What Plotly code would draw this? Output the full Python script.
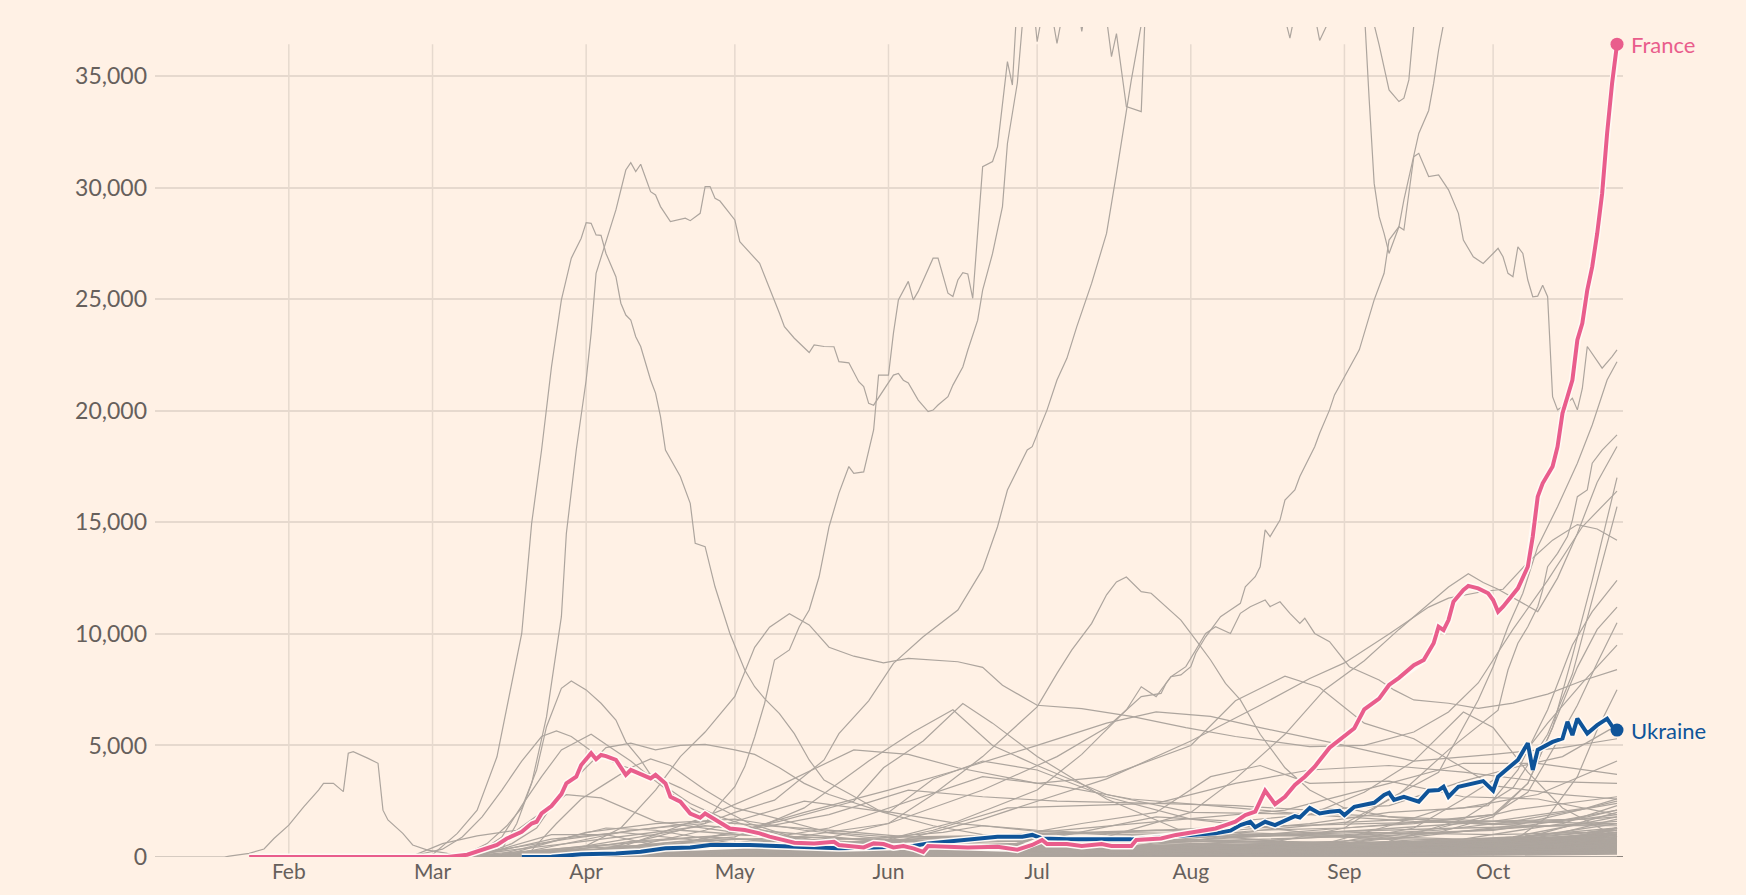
import plotly.graph_objects as go

# new cases per day (7-day average)
# each series is a list of (month-day, value) pairs, 2020

france = [('01-24', 0), ('03-04', 0), ('03-08', 100), ('03-11', 310), ('03-14', 540), ('03-16', 830),
          ('03-19', 1130), ('03-21', 1500), ('03-22', 1580), ('03-23', 1950), ('03-25', 2280), ('03-27', 2820),
          ('03-28', 3300), ('03-30', 3600), ('03-31', 4120), ('04-02', 4650), ('04-03', 4380), ('04-04', 4570),
          ('04-05', 4520), ('04-07', 4350), ('04-09', 3680), ('04-10', 3900), ('04-12', 3720), ('04-14', 3520),
          ('04-15', 3680), ('04-17', 3300), ('04-18', 2700), ('04-20', 2480), ('04-22', 1950), ('04-24', 1760),
          ('04-25', 1950), ('04-27', 1690), ('04-29', 1430), ('04-30', 1280), ('05-03', 1210), ('05-06', 1060),
          ('05-08', 910), ('05-13', 640), ('05-17', 610), ('05-21', 680), ('05-22', 540), ('05-27', 430),
          ('05-29', 610), ('05-31', 580), ('06-02', 430), ('06-04', 490), ('06-06', 390), ('06-08', 230),
          ('06-09', 490), ('06-17', 430), ('06-23', 460), ('06-25', 390), ('06-27', 330), ('06-30', 540),
          ('07-02', 760), ('07-03', 580), ('07-07', 580), ('07-10', 490), ('07-14', 580), ('07-16', 490),
          ('07-20', 490), ('07-21', 760), ('07-26', 830), ('07-29', 990), ('08-01', 1090), ('08-06', 1280),
          ('08-08', 1430), ('08-10', 1580), ('08-12', 1880), ('08-14', 2030), ('08-16', 2970), ('08-18', 2370),
          ('08-20', 2700), ('08-22', 3230), ('08-24', 3600), ('08-26', 4050), ('08-29', 4900), ('08-31', 5240),
          ('09-03', 5770), ('09-05', 6620), ('09-08', 7100), ('09-10', 7710), ('09-12', 8030), ('09-15', 8600),
          ('09-17', 8830), ('09-19', 9580), ('09-20', 10320), ('09-21', 10170), ('09-22', 10620), ('09-23', 11440),
          ('09-25', 11970), ('09-26', 12150), ('09-28', 12040), ('09-30', 11820), ('10-01', 11520), ('10-02', 10990),
          ('10-03', 11220), ('10-06', 12040), ('10-08', 13010), ('10-09', 14360), ('10-10', 16150), ('10-11', 16750),
          ('10-13', 17500), ('10-14', 18390), ('10-15', 19890), ('10-16', 20630), ('10-17', 21380), ('10-18', 23170),
          ('10-19', 23920), ('10-20', 25410), ('10-21', 26460), ('10-22', 27950), ('10-23', 29740), ('10-24', 32430),
          ('10-25', 34670), ('10-26', 36430)]

ukraine = [('03-19', 0), ('03-25', 15), ('03-31', 120), ('04-07', 160), ('04-12', 240), ('04-17', 390),
           ('04-22', 430), ('04-26', 540), ('05-04', 540), ('05-09', 490), ('05-16', 430), ('05-22', 390),
           ('05-29', 430), ('06-06', 490), ('06-09', 610), ('06-17', 760), ('06-23', 910), ('06-28', 910),
           ('06-30', 990), ('07-02', 830), ('07-07', 790), ('07-20', 790), ('08-06', 1060), ('08-09', 1180),
           ('08-11', 1430), ('08-13', 1580), ('08-14', 1330), ('08-16', 1580), ('08-18', 1430), ('08-22', 1830),
           ('08-23', 1770), ('08-25', 2200), ('08-27', 1950), ('08-29', 2030), ('08-31', 2070), ('09-01', 1880),
           ('09-03', 2250), ('09-07', 2430), ('09-09', 2780), ('09-10', 2880), ('09-11', 2560), ('09-13', 2700),
           ('09-16', 2480), ('09-18', 2970), ('09-20', 3000), ('09-21', 3150), ('09-22', 2700), ('09-24', 3150),
           ('09-27', 3300), ('09-29', 3400), ('10-01', 2970), ('10-02', 3600), ('10-06', 4350), ('10-08', 5100),
           ('10-09', 3900), ('10-10', 4800), ('10-13', 5160), ('10-15', 5310), ('10-16', 6060), ('10-17', 5460),
           ('10-18', 6200), ('10-20', 5530), ('10-22', 5910), ('10-24', 6200), ('10-25', 5870), ('10-26', 5690)]

# the other countries (grey)
china = [('01-05', 0), ('01-19', 0), ('01-20', 40), ('01-24', 160), ('01-27', 360), ('01-29', 830),
         ('02-01', 1430), ('02-04', 2250), ('02-07', 3000), ('02-08', 3300), ('02-10', 3300), ('02-12', 2930),
         ('02-13', 4650), ('02-14', 4720), ('02-17', 4420), ('02-19', 4200), ('02-20', 2100), ('02-21', 1660),
         ('02-24', 1060), ('02-26', 540), ('02-29', 310), ('03-04', 160), ('03-15', 30), ('10-26', 20)]

peak_april = [('02-25', 0), ('03-01', 100), ('03-06', 1060), ('03-10', 2100), ('03-14', 4490), ('03-16', 6730),
              ('03-19', 10020), ('03-21', 14950), ('03-23', 18240), ('03-25', 21970), ('03-27', 24970),
              ('03-29', 26840), ('03-31', 27730), ('04-01', 28430), ('04-02', 28400), ('04-03', 27880),
              ('04-04', 27860), ('04-05', 27050), ('04-07', 26010), ('04-08', 24820), ('04-09', 24290),
              ('04-10', 24070), ('04-11', 23320), ('04-12', 22880), ('04-14', 21380), ('04-15', 20790),
              ('04-16', 19740), ('04-17', 18240), ('04-20', 17050), ('04-22', 15850), ('04-23', 14060),
              ('04-25', 13910), ('04-27', 12110), ('04-30', 10020), ('05-03', 8380), ('05-05', 7630),
              ('05-07', 7100), ('05-10', 6430), ('05-13', 5530), ('05-16', 4350), ('05-19', 3450), ('05-24', 2850),
              ('05-30', 2100), ('06-15', 1500), ('07-01', 1200), ('07-20', 1000), ('08-10', 900), ('09-01', 1000),
              ('09-20', 1200), ('10-05', 1600), ('10-26', 2400)]

us = [('03-01', 5), ('03-10', 60), ('03-15', 350), ('03-18', 1500), ('03-21', 3300), ('03-24', 6280),
      ('03-27', 10770), ('03-28', 14500), ('03-30', 18240), ('04-01', 21380), ('04-02', 23470), ('04-03', 26160),
      ('04-07', 29000), ('04-09', 30790), ('04-10', 31120), ('04-11', 30720), ('04-12', 31050), ('04-14', 29820),
      ('04-15', 29670), ('04-16', 29150), ('04-18', 28480), ('04-21', 28630), ('04-22', 28520), ('04-24', 28850),
      ('04-25', 30050), ('04-26', 30050), ('04-27', 29520), ('04-28', 29400), ('05-01', 28550), ('05-02', 27580),
      ('05-03', 27330), ('05-06', 26610), ('05-10', 24370), ('05-11', 23770), ('05-13', 23250), ('05-15', 22800),
      ('05-16', 22610), ('05-17', 22950), ('05-19', 22880), ('05-21', 22870), ('05-22', 22200), ('05-24', 22150),
      ('05-26', 21300), ('05-27', 21080), ('05-28', 20330), ('05-29', 20250), ('05-31', 20920), ('06-02', 21600),
      ('06-03', 21670), ('06-04', 21370), ('06-05', 21250), ('06-07', 20480), ('06-09', 19960), ('06-10', 20030),
      ('06-11', 20260), ('06-13', 20630), ('06-14', 21150), ('06-16', 21960), ('06-17', 22710), ('06-19', 24060),
      ('06-20', 25410), ('06-22', 27050), ('06-24', 29150), ('06-25', 31980), ('06-27', 34690), ('06-28', 37300),
      ('07-05', 48000), ('07-20', 66000), ('08-10', 54000), ('09-01', 40000), ('09-07', 37300), ('09-08', 36400),
      ('09-10', 34380), ('09-12', 33860), ('09-13', 34010), ('09-14', 34830), ('09-15', 37300), ('09-16', 38500),
      ('10-01', 42000), ('10-26', 68000)]

brazil = [('03-15', 20), ('04-01', 800), ('04-10', 1200), ('04-20', 1400), ('04-25', 1500), ('04-28', 2400),
          ('05-01', 3150), ('05-03', 4050), ('05-05', 5380), ('05-07', 6880), ('05-09', 8830), ('05-12', 9280),
          ('05-14', 10320), ('05-16', 11070), ('05-18', 12560), ('05-20', 14800), ('05-22', 16310), ('05-24', 17500),
          ('05-25', 17190), ('05-27', 17260), ('05-28', 18240), ('05-29', 19140), ('05-30', 21600), ('06-01', 21600),
          ('06-02', 23480), ('06-03', 24970), ('06-05', 25800), ('06-06', 24970), ('06-07', 25350), ('06-10', 26840),
          ('06-11', 26840), ('06-13', 25270), ('06-14', 25120), ('06-15', 25860), ('06-16', 26190), ('06-17', 26130),
          ('06-18', 25040), ('06-20', 30940), ('06-22', 31170), ('06-23', 31840), ('06-25', 35650), ('06-26', 34600),
          ('06-27', 38500), ('06-29', 41000), ('07-01', 36540), ('07-03', 39000), ('07-05', 36470), ('07-08', 40000),
          ('07-10', 37000), ('07-13', 41000), ('07-16', 35870), ('07-17', 36900), ('07-19', 33630), ('07-22', 33410),
          ('07-23', 39000), ('07-28', 45000), ('08-05', 44000), ('08-15', 42000), ('08-21', 36700), ('08-24', 40000),
          ('08-27', 36600), ('08-30', 38000), ('09-02', 40000), ('09-05', 38000), ('09-06', 33930), ('09-07', 30190),
          ('09-08', 28700), ('09-09', 27950), ('09-10', 27050), ('09-12', 28250), ('09-13', 28100), ('09-15', 31390),
          ('09-16', 31540), ('09-18', 30500), ('09-20', 30570), ('09-22', 29900), ('09-24', 28850), ('09-25', 27650),
          ('09-27', 26900), ('09-29', 26600), ('10-01', 27050), ('10-02', 27280), ('10-03', 26900), ('10-04', 26160),
          ('10-05', 26010), ('10-06', 27350), ('10-07', 27050), ('10-08', 25860), ('10-09', 25110), ('10-10', 25140),
          ('10-11', 25630), ('10-12', 25110), ('10-13', 20630), ('10-14', 20040), ('10-15', 20180), ('10-17', 20560),
          ('10-18', 20040), ('10-19', 21000), ('10-20', 22880), ('10-23', 21910), ('10-25', 22430), ('10-26', 22730)]

india = [('03-20', 20), ('03-28', 100), ('04-05', 400), ('04-15', 900), ('04-25', 1500), ('05-01', 2000),
         ('05-09', 2550), ('05-14', 3450), ('05-19', 4350), ('05-22', 5530), ('05-28', 7000), ('06-02', 8680),
         ('06-08', 9870), ('06-15', 11070), ('06-20', 12900), ('06-23', 14800), ('06-25', 16450), ('06-29', 18240),
         ('06-30', 18390), ('07-03', 20040), ('07-05', 21380), ('07-07', 22350), ('07-09', 23770), ('07-12', 25720),
         ('07-15', 27950), ('07-17', 30640), ('07-20', 34830), ('07-22', 37300), ('07-26', 45000), ('08-15', 60000),
         ('09-15', 92000), ('10-10', 70000), ('10-26', 50000)]

rise_aug = [('04-01', 30), ('05-01', 500), ('06-01', 1500), ('06-20', 3000), ('07-05', 4500), ('07-15', 5800),
            ('07-19', 6590), ('07-22', 7190), ('07-26', 7330), ('07-27', 7780), ('07-28', 8080), ('07-30', 8160),
            ('08-01', 8530), ('08-02', 9130), ('08-04', 9870), ('08-07', 10770), ('08-09', 11070), ('08-11', 11370),
            ('08-12', 12110), ('08-14', 12560), ('08-15', 13010), ('08-16', 14660), ('08-17', 14360), ('08-19', 15100),
            ('08-20', 16000), ('08-22', 16450), ('08-23', 17050), ('08-26', 18390), ('08-27', 18990), ('08-29', 20040),
            ('08-30', 20710), ('09-01', 21530), ('09-04', 22730), ('09-07', 24970), ('09-09', 26160), ('09-10', 27650),
            ('09-12', 28250), ('09-13', 29450), ('09-16', 32430), ('09-18', 33460), ('09-19', 34670), ('09-20', 36170),
            ('09-22', 38500), ('10-01', 45000), ('10-26', 60000)]

spain = [('03-03', 20), ('03-08', 150), ('03-12', 600), ('03-16', 1400), ('03-19', 2200), ('03-22', 3900),
         ('03-24', 5840), ('03-26', 7040), ('03-27', 7560), ('03-29', 7890), ('04-01', 7490), ('04-04', 6890),
         ('04-07', 6140), ('04-09', 5160), ('04-12', 4350), ('04-14', 3680), ('04-18', 3000), ('04-22', 2400),
         ('04-28', 1800), ('05-05', 1300), ('05-12', 900), ('05-20', 500), ('06-01', 320), ('06-15', 350),
         ('07-01', 420), ('07-15', 900), ('08-01', 2000), ('08-10', 3500), ('08-20', 5500), ('08-28', 7500),
         ('09-05', 8800), ('09-12', 10200), ('09-22', 12100), ('09-26', 12700), ('09-29', 12300), ('10-02', 12000),
         ('10-06', 11500), ('10-10', 11000), ('10-14', 12500), ('10-18', 14500), ('10-22', 16800), ('10-26', 18400)]

italy = [('02-21', 0), ('02-27', 100), ('03-03', 350), ('03-07', 900), ('03-11', 1800), ('03-15', 3000),
         ('03-19', 4300), ('03-23', 5400), ('03-26', 5650), ('03-29', 5400), ('04-03', 4600), ('04-08', 4100),
         ('04-14', 3700), ('04-20', 3100), ('04-27', 2300), ('05-04', 1500), ('05-12', 950), ('05-20', 650),
         ('06-01', 380), ('06-15', 300), ('07-01', 200), ('07-20', 230), ('08-01', 300), ('08-15', 550),
         ('09-01', 1300), ('09-15', 1550), ('10-01', 1900), ('10-08', 3300), ('10-13', 5800), ('10-17', 9000),
         ('10-21', 12400), ('10-26', 17000)]

germany = [('02-28', 10), ('03-06', 100), ('03-11', 300), ('03-15', 900), ('03-19', 2300), ('03-23', 3600),
           ('03-27', 4800), ('04-02', 5500), ('04-06', 4900), ('04-10', 4300), ('04-15', 3400), ('04-22', 2200),
           ('04-30', 1300), ('05-10', 850), ('05-20', 600), ('06-01', 400), ('06-20', 450), ('07-01', 420),
           ('07-20', 500), ('08-01', 700), ('08-15', 1200), ('09-01', 1300), ('09-15', 1500), ('10-01', 1900),
           ('10-08', 2900), ('10-13', 4800), ('10-18', 6800), ('10-22', 8700), ('10-26', 10500)]

uk = [('03-05', 20), ('03-12', 200), ('03-17', 600), ('03-22', 1300), ('03-27', 2900), ('04-01', 4000),
      ('04-05', 4900), ('04-10', 5100), ('04-15', 4800), ('04-20', 5000), ('04-25', 5050), ('05-01', 4800),
      ('05-05', 4600), ('05-10', 4000), ('05-15', 3300), ('05-20', 2800), ('05-31', 2000), ('06-10', 1400),
      ('06-20', 1000), ('07-01', 750), ('07-15', 600), ('08-01', 750), ('08-15', 1000), ('09-01', 1300),
      ('09-10', 2600), ('09-20', 3800), ('09-28', 7040), ('10-01', 8530), ('10-04', 10320), ('10-07', 11820),
      ('10-10', 13910), ('10-14', 15700), ('10-18', 17650), ('10-21', 19360), ('10-24', 21380), ('10-26', 22200)]

rise_oct = [('09-01', 1500), ('09-12', 2800), ('09-22', 4800), ('10-02', 6580), ('10-03', 7490), ('10-04', 8380),
            ('10-06', 9580), ('10-08', 10320), ('10-10', 11220), ('10-11', 11970), ('10-12', 13010), ('10-14', 13610),
            ('10-16', 14360), ('10-17', 15100), ('10-18', 16150), ('10-20', 16450), ('10-21', 17650), ('10-23', 18240),
            ('10-26', 18920)]

turkey = [('03-15', 10), ('03-21', 300), ('03-26', 1500), ('03-31', 2600), ('04-05', 3300), ('04-10', 4000),
          ('04-14', 4400), ('04-18', 4100), ('04-25', 3000), ('05-01', 2200), ('05-10', 1700), ('05-20', 1100),
          ('06-01', 900), ('06-12', 1100), ('06-20', 1400), ('07-01', 1150), ('07-15', 1000), ('08-01', 950),
          ('08-15', 1200), ('09-01', 1550), ('09-15', 1700), ('10-01', 1500), ('10-15', 1650), ('10-26', 2100)]

russia = [('03-20', 30), ('04-01', 500), ('04-08', 1300), ('04-15', 3000), ('04-20', 4500), ('04-25', 5600),
          ('05-01', 7200), ('05-05', 9400), ('05-08', 10300), ('05-12', 10900), ('05-16', 10400), ('05-20', 9400),
          ('05-25', 9000), ('05-31', 8700), ('06-05', 8900), ('06-15', 8750), ('06-20', 8500), ('06-24', 7700),
          ('07-01', 6800), ('07-10', 6650), ('07-20', 6300), ('07-31', 5800), ('08-10', 5400), ('08-25', 4950),
          ('09-05', 5000), ('09-15', 5600), ('09-22', 6500), ('09-28', 7800), ('10-05', 10200), ('10-12', 12400),
          ('10-19', 14800), ('10-26', 16400)]

peak_july = [('04-15', 100), ('05-01', 300), ('05-15', 600), ('06-01', 1500), ('06-10', 2800), ('06-20', 4500),
             ('07-01', 6730), ('07-05', 8230), ('07-08', 9280), ('07-12', 10470), ('07-15', 11750), ('07-17', 12330),
             ('07-19', 12550), ('07-22', 11890), ('07-24', 11820), ('07-27', 11220), ('07-30', 10620), ('08-02', 9730),
             ('08-05', 8830), ('08-08', 7780), ('08-11', 7040), ('08-15', 5500), ('08-20', 4000), ('08-25', 3000),
             ('09-01', 2200), ('09-10', 1800), ('09-20', 1600), ('10-01', 1450), ('10-15', 1600), ('10-26', 1900)]

peak_august = [('04-01', 50), ('05-01', 300), ('06-01', 800), ('06-15', 1600), ('07-01', 3000), ('07-10', 4600),
               ('07-19', 6590), ('07-22', 7630), ('07-25', 7190), ('07-28', 8080), ('07-31', 8530), ('08-04', 10020),
               ('08-06', 10320), ('08-09', 10020), ('08-11', 10920), ('08-13', 11220), ('08-16', 11520),
               ('08-17', 11220), ('08-19', 11440), ('08-21', 10920), ('08-23', 10470), ('08-24', 10700),
               ('08-26', 10020), ('08-29', 9650), ('09-02', 8530), ('09-08', 7930), ('09-11', 7490), ('09-15', 7040),
               ('09-22', 6890), ('09-28', 6660), ('10-05', 6900), ('10-12', 7300), ('10-19', 7900), ('10-26', 8400)]

argentina = [('04-01', 50), ('05-01', 150), ('06-01', 600), ('06-20', 1700), ('07-01', 2500), ('07-15', 3500),
             ('08-01', 5200), ('08-15', 6800), ('08-25', 8000), ('09-01', 8700), ('09-10', 10000), ('09-18', 11200),
             ('09-22', 11600), ('09-29', 11900), ('10-03', 12000), ('10-08', 13200), ('10-13', 14200),
             ('10-18', 14900), ('10-22', 14700), ('10-26', 14200)]

mexico = [('04-10', 200), ('05-01', 1100), ('05-15', 2000), ('06-01', 3000), ('06-15', 3900), ('07-01', 5000),
          ('07-15', 6000), ('07-25', 6500), ('08-05', 6300), ('08-15', 5800), ('09-01', 5000), ('09-15', 4300),
          ('10-01', 4600), ('10-15', 4900), ('10-26', 5300)]

peru = [('04-05', 200), ('04-25', 1800), ('05-10', 3200), ('05-25', 4800), ('06-05', 4600), ('06-15', 4000),
        ('07-01', 3300), ('07-15', 3600), ('08-01', 5000), ('08-10', 7000), ('08-20', 8100), ('08-27', 7600),
        ('09-05', 6000), ('09-15', 5300), ('10-01', 3200), ('10-15', 2800), ('10-26', 2600)]

chile = [('04-01', 300), ('05-01', 900), ('05-15', 2200), ('05-28', 4300), ('06-06', 5600), ('06-14', 6600),
         ('06-22', 5000), ('07-01', 4100), ('07-15', 2800), ('08-01', 2000), ('09-01', 1900), ('10-01', 1600),
         ('10-26', 1500)]

iran = [('02-26', 50), ('03-03', 600), ('03-10', 950), ('03-18', 1200), ('03-28', 2800), ('04-04', 2650),
        ('04-15', 1600), ('05-01', 1100), ('05-20', 1900), ('06-05', 3000), ('06-20', 2700), ('07-05', 2500),
        ('07-25', 2400), ('08-10', 2300), ('08-25', 2100), ('09-10', 2300), ('09-25', 3400), ('10-05', 4000),
        ('10-15', 4500), ('10-26', 5900)]

pakistan = [('04-01', 150), ('04-20', 600), ('05-10', 1600), ('05-25', 2500), ('05-31', 4000), ('06-08', 5200),
            ('06-16', 6880), ('06-22', 6000), ('07-01', 4500), ('07-15', 2600), ('08-01', 1000), ('09-01', 500),
            ('10-01', 600), ('10-26', 800)]

saudi = [('04-05', 200), ('04-25', 1200), ('05-15', 2500), ('06-01', 2000), ('06-10', 3500), ('06-20', 4300),
         ('07-01', 3900), ('07-15', 2700), ('08-01', 1700), ('09-01', 900), ('10-01', 500), ('10-26', 400)]

israel = [('03-20', 200), ('04-05', 550), ('04-20', 350), ('05-15', 20), ('06-15', 200), ('07-05', 900),
          ('07-25', 1800), ('08-10', 1600), ('08-25', 1900), ('09-05', 2900), ('09-15', 4300), ('09-25', 6500),
          ('10-01', 5800), ('10-08', 3800), ('10-15', 2200), ('10-26', 900)]

philippines = [('04-01', 200), ('05-01', 250), ('06-01', 450), ('06-20', 700), ('07-10', 1500), ('07-25', 2000),
               ('08-05', 3600), ('08-15', 4100), ('08-25', 3300), ('09-10', 3400), ('09-25', 2700),
               ('10-10', 2600), ('10-26', 1900)]

indonesia = [('04-01', 100), ('05-01', 330), ('06-01', 600), ('07-01', 1100), ('08-01', 1700), ('08-20', 2100),
             ('09-10', 3300), ('09-25', 4200), ('10-10', 4200), ('10-26', 3700)]

iraq = [('04-15', 40), ('05-20', 200), ('06-10', 1200), ('06-25', 2200), ('07-10', 2300), ('07-25', 2400),
        ('08-10', 3300), ('08-25', 3900), ('09-10', 4100), ('09-25', 3800), ('10-10', 3400), ('10-26', 3300)]

bangladesh = [('04-10', 60), ('05-01', 600), ('05-20', 1300), ('06-05', 2500), ('06-20', 3600), ('07-05', 3200),
              ('07-20', 2600), ('08-05', 2300), ('08-25', 1900), ('09-15', 1600), ('10-10', 1400), ('10-26', 1400)]

canada = [('03-15', 50), ('04-01', 1100), ('04-15', 1500), ('05-01', 1700), ('05-15', 1200), ('06-01', 780),
          ('06-20', 350), ('07-20', 450), ('08-15', 350), ('09-01', 600), ('09-20', 1300), ('10-05', 2100),
          ('10-26', 2700)]

morocco = [('04-01', 50), ('05-01', 150), ('06-15', 100), ('07-15', 300), ('08-10', 1200), ('08-25', 1500),
           ('09-10', 2000), ('09-25', 2200), ('10-10', 2800), ('10-26', 4300)]

switzerland = [('03-10', 50), ('03-25', 1000), ('04-05', 1000), ('04-20', 300), ('05-20', 30), ('07-20', 120),
               ('09-20', 350), ('10-05', 700), ('10-12', 1800), ('10-18', 3600), ('10-22', 5700), ('10-26', 7500)]

netherlands = [('03-10', 50), ('03-25', 800), ('04-08', 1100), ('04-25', 700), ('05-15', 250), ('06-15', 120),
               ('07-15', 200), ('08-10', 550), ('09-01', 700), ('09-15', 1300), ('09-25', 2600), ('10-05', 4000),
               ('10-12', 6000), ('10-19', 7800), ('10-26', 9500)]

belgium = [('03-15', 150), ('04-05', 1300), ('04-15', 1200), ('05-01', 600), ('06-01', 150), ('07-15', 150),
           ('08-05', 500), ('08-25', 400), ('09-10', 700), ('09-25', 1700), ('10-05', 3100), ('10-12', 5500),
           ('10-17', 8200), ('10-21', 11500), ('10-26', 15700)]

czechia = [('03-20', 200), ('04-10', 250), ('05-10', 60), ('06-30', 150), ('08-01', 250), ('08-25', 400),
           ('09-10', 1400), ('09-20', 2100), ('09-30', 2300), ('10-06', 3900), ('10-12', 6600), ('10-17', 9500),
           ('10-21', 11000), ('10-26', 12400)]

poland = [('03-25', 300), ('04-15', 400), ('05-15', 350), ('06-15', 400), ('07-15', 300), ('08-10', 700),
          ('09-01', 600), ('09-20', 1100), ('10-01', 1800), ('10-08', 3300), ('10-13', 5800), ('10-18', 8500),
          ('10-22', 10200), ('10-26', 11200)]

# the dense bundle of small countries near zero
low_dates_a = ['03-10', '04-01', '04-20', '05-15', '06-15', '07-15', '08-15', '09-15', '10-05', '10-26']
low_a1 = [0, 300, 700, 900, 600, 400, 500, 900, 1400, 2500]
low_a2 = [0, 150, 400, 600, 800, 900, 700, 600, 800, 1200]
low_a3 = [0, 80, 250, 350, 300, 250, 300, 500, 900, 1800]
low_a4 = [0, 500, 1200, 800, 400, 200, 150, 300, 700, 2000]
low_a5 = [0, 50, 200, 500, 900, 1100, 1000, 800, 700, 800]
low_a6 = [0, 20, 100, 250, 400, 600, 800, 1000, 1300, 1600]
low_a7 = [0, 200, 350, 200, 100, 80, 150, 250, 500, 1000]
low_a8 = [0, 100, 150, 200, 300, 450, 600, 700, 900, 1300]
low_a9 = [0, 30, 60, 120, 200, 300, 350, 450, 550, 700]
low_a10 = [0, 10, 40, 80, 150, 250, 400, 600, 750, 900]
low_a11 = [0, 400, 600, 350, 150, 100, 200, 400, 800, 1500]
low_a12 = [0, 60, 120, 180, 220, 200, 180, 220, 300, 450]
low_a13 = [0, 20, 60, 100, 180, 350, 500, 400, 350, 400]
low_a14 = [0, 250, 500, 650, 550, 500, 450, 550, 650, 1100]

low_dates_b = ['03-20', '04-10', '05-01', '05-25', '06-25', '07-25', '08-25', '09-25', '10-15', '10-26']
low_b1 = [0, 700, 1000, 800, 500, 400, 500, 800, 1500, 2300]
low_b2 = [0, 200, 450, 700, 1000, 1200, 1000, 800, 900, 1000]
low_b3 = [0, 100, 200, 300, 500, 800, 1100, 1300, 1400, 1500]
low_b4 = [0, 50, 100, 150, 250, 300, 400, 600, 800, 1000]
low_b5 = [0, 300, 500, 400, 250, 200, 250, 400, 700, 1300]
low_b6 = [0, 20, 50, 100, 200, 400, 600, 700, 600, 550]
low_b7 = [0, 150, 250, 250, 200, 150, 120, 200, 350, 600]
low_b8 = [0, 80, 180, 350, 600, 700, 650, 550, 500, 500]
low_b9 = [0, 10, 30, 60, 100, 150, 200, 300, 450, 600]
low_b10 = [0, 450, 800, 600, 300, 200, 300, 600, 1100, 1700]
low_b11 = [0, 40, 70, 100, 120, 140, 160, 200, 250, 300]
low_b12 = [0, 120, 300, 500, 700, 650, 500, 400, 500, 650]
low_b13 = [0, 5, 20, 40, 60, 80, 100, 150, 200, 250]

low_dates_c = ['03-05', '03-28', '04-25', '05-20', '06-05', '07-05', '08-05', '09-05', '10-01', '10-20', '10-26']
low_c1 = [0, 400, 900, 600, 500, 400, 600, 1000, 1200, 1800, 2100]
low_c2 = [0, 100, 300, 400, 450, 600, 900, 1100, 1000, 1100, 1200]
low_c3 = [0, 600, 1400, 900, 600, 300, 200, 300, 500, 900, 1300]
low_c4 = [0, 50, 150, 300, 400, 500, 450, 400, 450, 600, 700]
low_c5 = [0, 200, 300, 250, 200, 250, 350, 500, 700, 1000, 1100]
low_c6 = [0, 20, 80, 150, 250, 400, 500, 600, 800, 1100, 1300]
low_c7 = [0, 300, 500, 300, 200, 150, 100, 150, 300, 650, 800]
low_c8 = [0, 30, 100, 200, 300, 350, 400, 350, 300, 350, 400]
low_c9 = [0, 150, 400, 600, 700, 800, 700, 600, 700, 900, 1000]
low_c10 = [0, 10, 50, 100, 150, 200, 250, 300, 400, 500, 550]
low_c11 = [0, 80, 200, 250, 250, 200, 150, 200, 300, 500, 600]
low_c12 = [0, 800, 1600, 1200, 900, 700, 800, 1200, 1600, 2200, 2600]
low_c13 = [0, 250, 600, 800, 900, 1000, 1300, 1500, 1600, 1700, 1800]

low_dates_d = ['03-15', '04-05', '04-30', '05-30', '06-30', '07-30', '08-30', '09-20', '10-10', '10-26']
low_d1 = [0, 60, 150, 250, 300, 350, 400, 500, 700, 900]
low_d2 = [0, 30, 80, 120, 150, 200, 250, 350, 500, 700]
low_d3 = [0, 100, 200, 200, 250, 300, 300, 350, 400, 500]
low_d4 = [0, 10, 40, 60, 90, 120, 150, 200, 300, 400]
low_d5 = [0, 150, 300, 350, 400, 450, 500, 600, 800, 1100]
low_d6 = [0, 20, 60, 100, 120, 100, 120, 150, 250, 350]
low_d7 = [0, 200, 400, 300, 250, 300, 350, 450, 600, 800]
low_d8 = [0, 50, 100, 180, 250, 300, 280, 300, 350, 450]
low_d9 = [0, 5, 15, 30, 50, 70, 90, 120, 160, 200]
low_d10 = [0, 80, 200, 300, 350, 400, 450, 500, 550, 650]
low_d11 = [0, 40, 100, 150, 200, 250, 350, 450, 600, 750]
low_d12 = [0, 120, 250, 200, 150, 120, 150, 250, 450, 1000]

low_dates_e = ['03-25', '04-15', '05-10', '06-10', '07-10', '08-10', '09-10', '09-30', '10-20', '10-26']
low_e1 = [0, 100, 150, 200, 250, 300, 350, 400, 500, 550]
low_e2 = [0, 50, 120, 200, 300, 400, 500, 600, 700, 750]
low_e3 = [0, 200, 300, 250, 200, 180, 200, 300, 450, 500]
low_e4 = [0, 20, 50, 80, 100, 130, 170, 220, 280, 300]
low_e5 = [0, 300, 450, 400, 350, 300, 350, 500, 900, 1100]
low_e6 = [0, 10, 30, 50, 80, 110, 140, 180, 230, 260]
low_e7 = [0, 70, 150, 250, 350, 450, 500, 550, 650, 700]
low_e8 = [0, 150, 200, 150, 100, 90, 110, 160, 250, 300]
low_e9 = [0, 30, 70, 110, 160, 200, 260, 320, 400, 450]
low_e10 = [0, 250, 600, 500, 400, 350, 450, 650, 1000, 1200]
low_e11 = [0, 90, 140, 180, 220, 260, 300, 380, 480, 520]
low_e12 = [0, 15, 40, 70, 110, 160, 230, 300, 380, 420]

low_dates_f = ['03-18', '04-08', '05-05', '06-05', '07-05', '08-05', '09-05', '09-28', '10-12', '10-26']
low_f1 = [0, 40, 90, 130, 160, 190, 230, 300, 380, 480]
low_f2 = [0, 120, 180, 140, 120, 150, 200, 280, 420, 650]
low_f3 = [0, 20, 60, 110, 180, 260, 330, 380, 450, 520]
low_f4 = [0, 250, 380, 300, 220, 200, 260, 380, 600, 900]
low_f5 = [0, 60, 110, 90, 70, 60, 80, 120, 200, 320]
low_f6 = [0, 8, 25, 50, 90, 140, 200, 250, 300, 350]
low_f7 = [0, 180, 260, 330, 380, 420, 400, 450, 520, 650]
low_f8 = [0, 30, 50, 70, 90, 110, 130, 160, 200, 240]
low_f9 = [0, 90, 230, 280, 260, 240, 280, 420, 700, 1300]
low_f10 = [0, 15, 35, 60, 80, 100, 100, 120, 150, 180]
low_f11 = [0, 140, 300, 420, 480, 550, 600, 700, 850, 950]
low_f12 = [0, 50, 140, 220, 300, 350, 380, 420, 500, 600]
low_f13 = [0, 350, 500, 350, 200, 150, 180, 300, 550, 850]
low_f14 = [0, 25, 45, 40, 35, 45, 60, 90, 130, 170]
low_f15 = [0, 70, 170, 260, 330, 400, 480, 600, 800, 1050]

low_dates_g = ['03-22', '04-18', '05-12', '06-12', '07-12', '08-12', '09-12', '10-02', '10-18', '10-26']
low_g1 = [0, 60, 100, 140, 170, 200, 240, 290, 350, 380]
low_g2 = [0, 200, 250, 200, 180, 220, 300, 420, 600, 700]
low_g3 = [0, 30, 80, 130, 200, 260, 300, 330, 380, 420]
low_g4 = [0, 100, 160, 220, 250, 280, 350, 500, 750, 900]
low_g5 = [0, 10, 20, 40, 60, 80, 110, 150, 200, 230]
low_g6 = [0, 150, 220, 260, 300, 330, 360, 400, 480, 520]
low_g7 = [0, 40, 70, 90, 100, 120, 150, 200, 280, 330]
low_g8 = [0, 280, 420, 380, 300, 260, 280, 350, 500, 600]
low_g9 = [0, 20, 50, 90, 140, 190, 250, 300, 350, 380]
low_g10 = [0, 80, 120, 100, 90, 110, 140, 200, 300, 360]
low_g11 = [0, 110, 200, 300, 380, 450, 520, 620, 760, 820]
low_g12 = [0, 45, 90, 160, 230, 290, 340, 380, 450, 500]
low_g13 = [0, 170, 320, 420, 500, 560, 620, 700, 850, 1000]
low_g14 = [0, 5, 10, 20, 30, 40, 60, 80, 110, 130]
low_g15 = [0, 60, 140, 190, 210, 230, 280, 350, 470, 560]

month_ticks = ['02-01', '03-01', '04-01', '05-01', '06-01', '07-01', '08-01', '09-01', '10-01']
month_labels = ['Feb', 'Mar', 'Apr', 'May', 'Jun', 'Jul', 'Aug', 'Sep', 'Oct']

BG = '#FFF1E5'
GRID = '#E6D9CE'
GREY = '#ADA59E'
PINK = '#E95D8C'
BLUE = '#0F5499'
TEXT = '#66605C'
FONT = 'Lato, sans-serif'
X_END = '2020-10-27 05:00'


def unpack(pairs):
    return ['2020-' + p[0] for p in pairs], [p[1] for p in pairs]


fig = go.Figure()

grey_pairs = [china, peak_april, us, brazil, india, rise_aug, spain, italy, germany, uk, rise_oct, turkey,
              russia, peak_july, peak_august, argentina, mexico, peru, chile, iran, pakistan, saudi, israel,
              philippines, indonesia, iraq, bangladesh, canada, morocco, switzerland, netherlands, belgium,
              czechia, poland]
low_sets = [
    (low_dates_a, [low_a1, low_a2, low_a3, low_a4, low_a5, low_a6, low_a7, low_a8, low_a9, low_a10,
                   low_a11, low_a12, low_a13, low_a14]),
    (low_dates_b, [low_b1, low_b2, low_b3, low_b4, low_b5, low_b6, low_b7, low_b8, low_b9, low_b10,
                   low_b11, low_b12, low_b13]),
    (low_dates_c, [low_c1, low_c2, low_c3, low_c4, low_c5, low_c6, low_c7, low_c8, low_c9, low_c10,
                   low_c11, low_c12, low_c13]),
    (low_dates_d, [low_d1, low_d2, low_d3, low_d4, low_d5, low_d6, low_d7, low_d8, low_d9, low_d10,
                   low_d11, low_d12]),
    (low_dates_e, [low_e1, low_e2, low_e3, low_e4, low_e5, low_e6, low_e7, low_e8, low_e9, low_e10,
                   low_e11, low_e12]),
    (low_dates_f, [low_f1, low_f2, low_f3, low_f4, low_f5, low_f6, low_f7, low_f8, low_f9, low_f10,
                   low_f11, low_f12, low_f13, low_f14, low_f15]),
    (low_dates_g, [low_g1, low_g2, low_g3, low_g4, low_g5, low_g6, low_g7, low_g8, low_g9, low_g10,
                   low_g11, low_g12, low_g13, low_g14, low_g15]),
]

for dates, series in low_sets:
    for vals in series:
        fig.add_trace(go.Scatter(x=['2020-' + d for d in dates], y=vals, mode='lines',
                                 line=dict(color=GREY, width=1.3), hoverinfo='skip'))

for pairs in grey_pairs:
    x, y = unpack(pairs)
    fig.add_trace(go.Scatter(x=x, y=y, mode='lines', line=dict(color=GREY, width=1.2), hoverinfo='skip'))

# highlighted countries, with a pale halo underneath
for pairs, colour, name in [(ukraine, BLUE, 'Ukraine'), (france, PINK, 'France')]:
    x, y = unpack(pairs)
    fig.add_trace(go.Scatter(x=x, y=y, mode='lines', line=dict(color='#FFFAF5', width=7), hoverinfo='skip'))
    fig.add_trace(go.Scatter(x=x, y=y, mode='lines', line=dict(color=colour, width=4), hoverinfo='skip'))
    fig.add_trace(go.Scatter(x=[x[-1]], y=[y[-1]], mode='markers', marker=dict(color=colour, size=13),
                             hoverinfo='skip', cliponaxis=False))
    fig.add_annotation(x=x[-1], y=y[-1], text=name, showarrow=False, xanchor='left', yanchor='middle',
                       xshift=12, font=dict(color=colour, size=22, family=FONT))

# vertical month gridlines stop at the height of the highest value (France)
top = max(v for _, v in france)
for m in month_ticks:
    fig.add_shape(type='line', x0='2020-' + m, x1='2020-' + m, y0=0, y1=top, xref='x', yref='y',
                  line=dict(color=GRID, width=1.5), layer='below')
# small dark stub at the right end of the zero line
fig.add_shape(type='line', x0='2020-10-26', x1=X_END, y0=0, y1=0, xref='x', yref='y',
              line=dict(color=TEXT, width=1.5))

fig.update_layout(
    width=1746, height=895,
    paper_bgcolor=BG, plot_bgcolor=BG,
    margin=dict(l=155, r=123, t=27, b=38),
    showlegend=False,
    font=dict(family=FONT, color=TEXT),
)
fig.update_xaxes(
    type='date', range=['2020-01-05', X_END],
    showgrid=False, zeroline=False, showline=False, ticks='',
    tickvals=['2020-' + m for m in month_ticks], ticktext=month_labels,
    tickfont=dict(size=21, color=TEXT, family=FONT),
)
fig.update_yaxes(
    range=[0, 37200], tickvals=[0, 5000, 10000, 15000, 20000, 25000, 30000, 35000],
    tickformat=',', showgrid=True, gridcolor=GRID, gridwidth=1.5,
    zeroline=False, showline=False, ticks='', ticklabelstandoff=7,
    tickfont=dict(size=23, color=TEXT, family=FONT),
)

# page body has a default 8px margin; remove it so the figure sits at the window's corner
fig.write_html('out.html', config={'displayModeBar': False},
               post_script="document.body.style.margin='0';")
